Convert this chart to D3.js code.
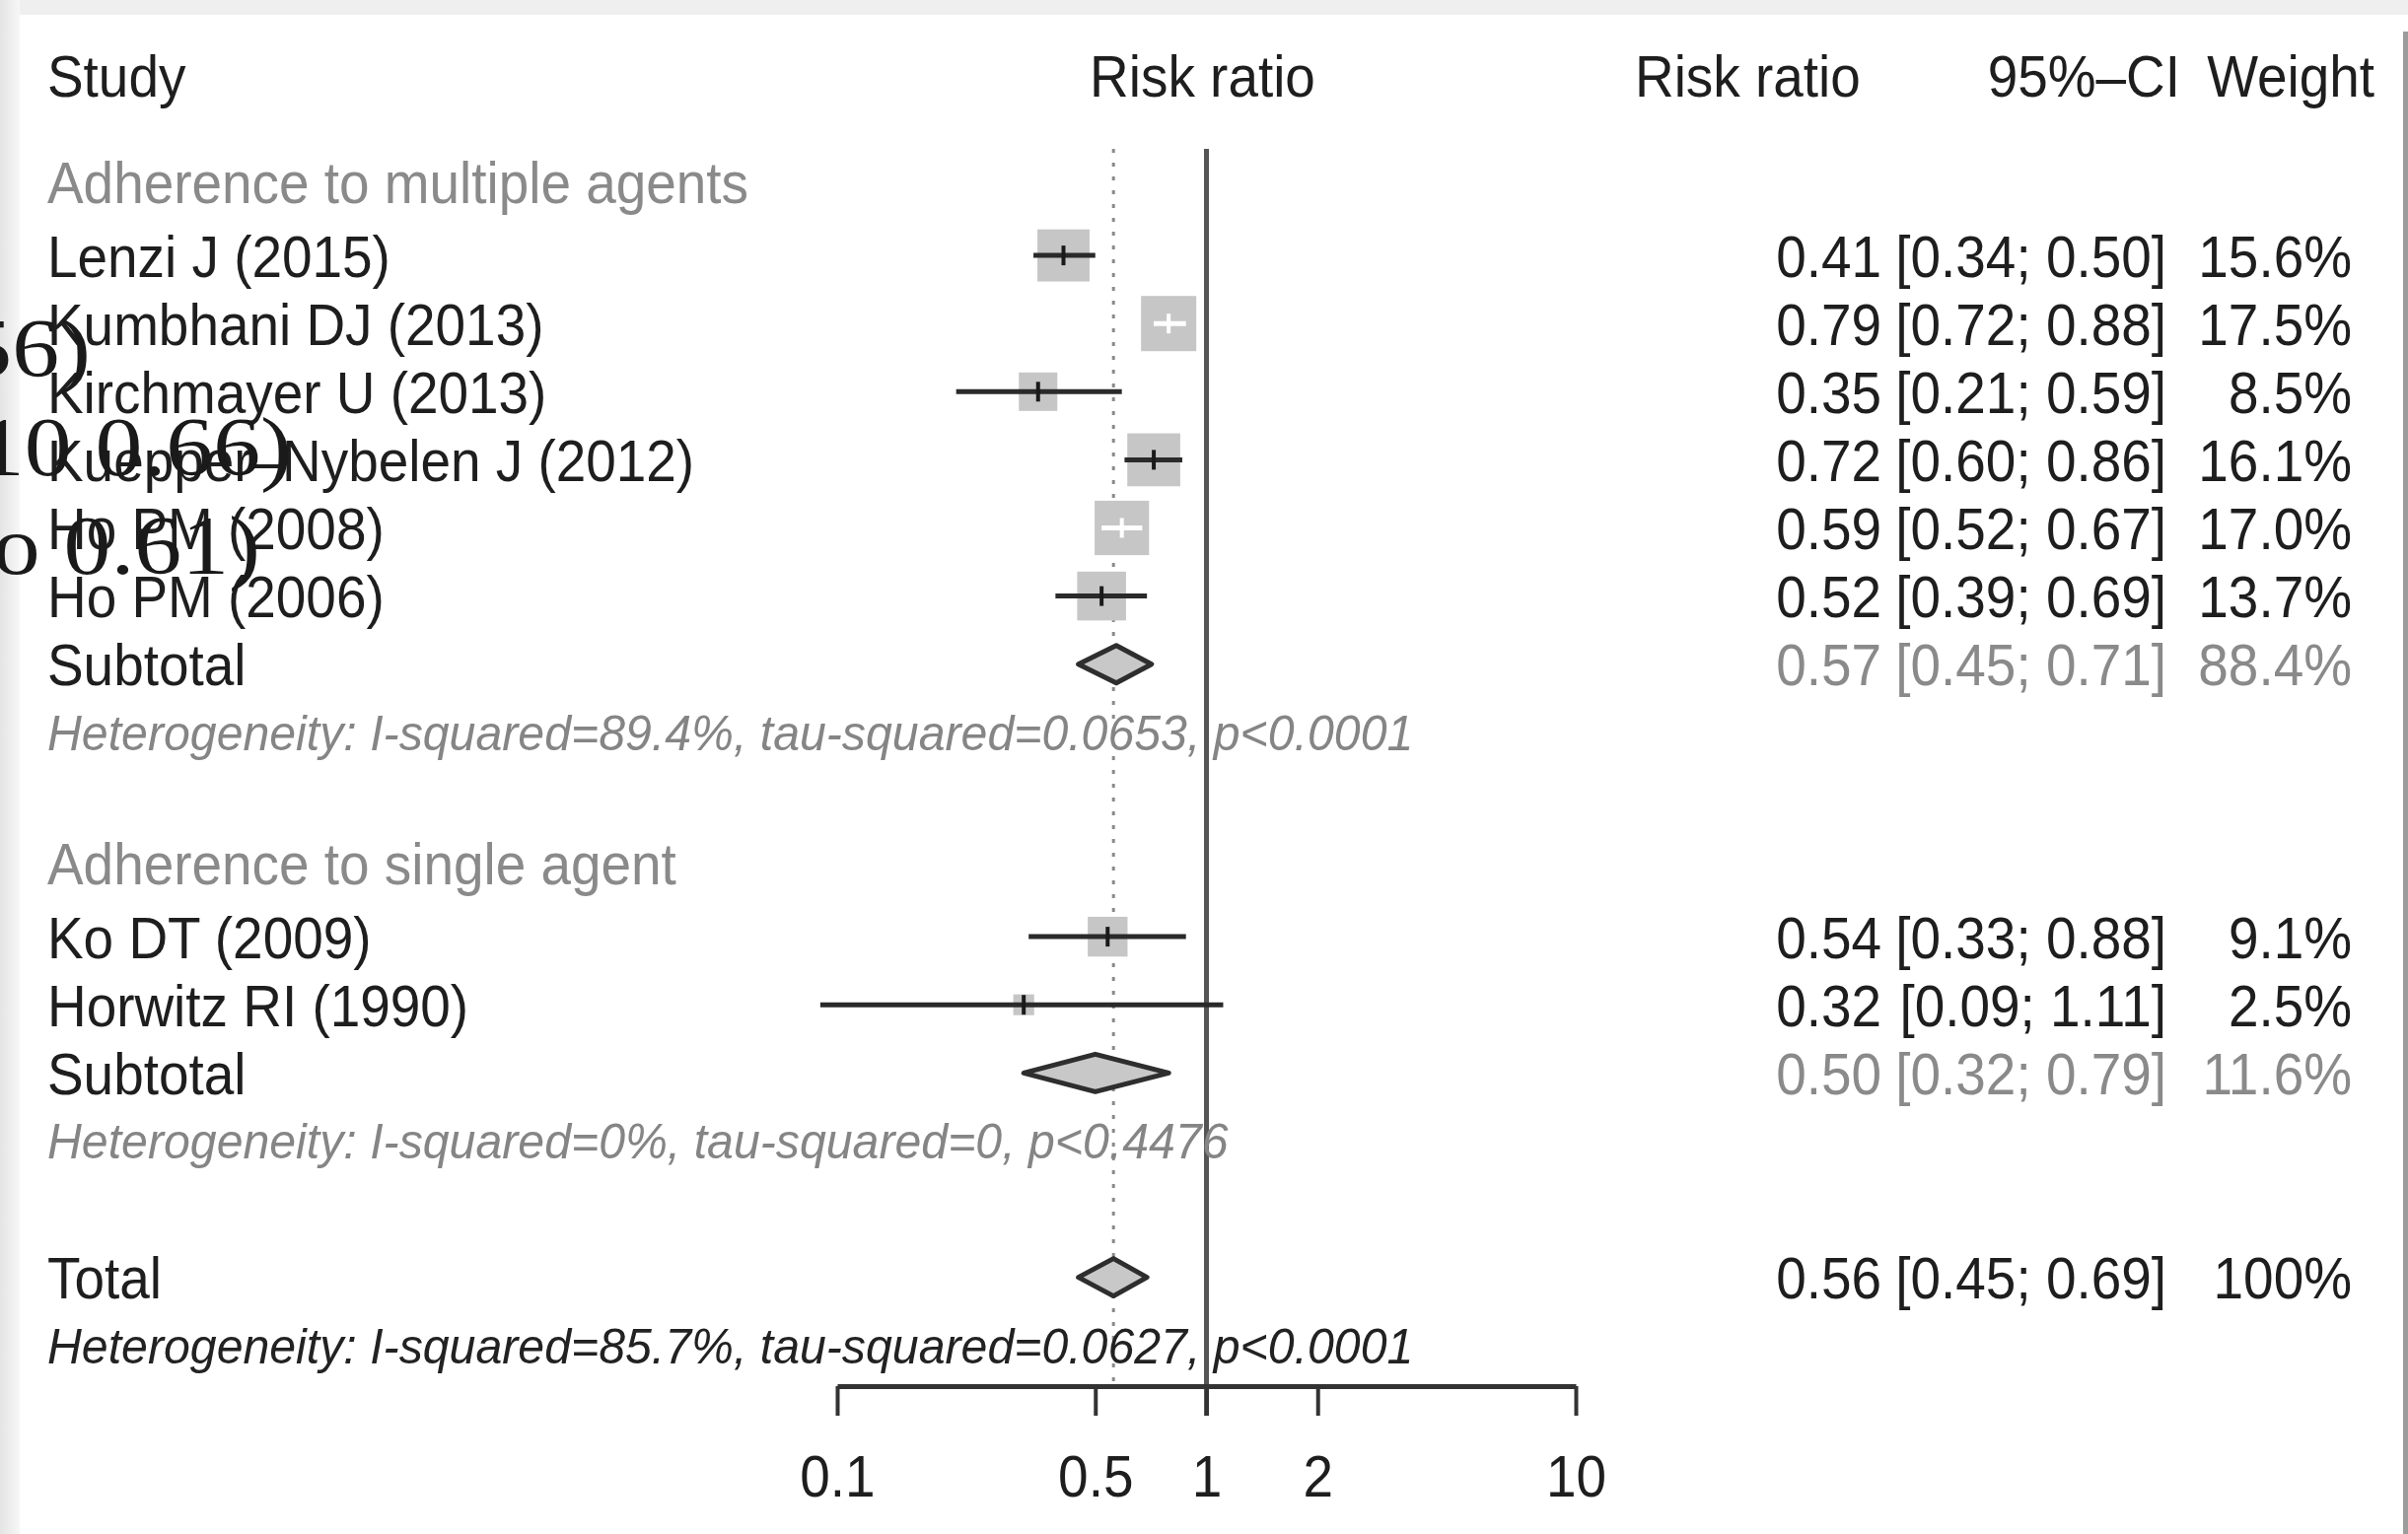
<!DOCTYPE html>
<html>
<head>
<meta charset="utf-8">
<script src="https://d3js.org/d3.v7.min.js"></script>
<style>
  html, body { margin: 0; padding: 0; background: #fff; }
  svg { display: block; }
</style>
</head>
<body>
<div id="chart"></div>
<script>
// Forest plot - adherence and risk ratio (meta style)

const groupNames = ["Adherence to multiple agents", "Adherence to single agent"];

const studies1 = ["Lenzi J (2015)", "Kumbhani DJ (2013)", "Kirchmayer U (2013)",
                  "Kuepper\u2013Nybelen J (2012)", "Ho PM (2008)", "Ho PM (2006)"];
const rr1 = [0.41, 0.79, 0.35, 0.72, 0.59, 0.52];
const lower1 = [0.34, 0.72, 0.21, 0.60, 0.52, 0.39];
const upper1 = [0.50, 0.88, 0.59, 0.86, 0.67, 0.69];
const weight1 = [15.6, 17.5, 8.5, 16.1, 17.0, 13.7];

const studies2 = ["Ko DT (2009)", "Horwitz RI (1990)"];
const rr2 = [0.54, 0.32];
const lower2 = [0.33, 0.09];
const upper2 = [0.88, 1.11];
const weight2 = [9.1, 2.5];

const subtotalRR = [0.57, 0.50];
const subtotalLower = [0.45, 0.32];
const subtotalUpper = [0.71, 0.79];
const subtotalWeight = [88.4, 11.6];
const hetTexts = ["Heterogeneity: I-squared=89.4%, tau-squared=0.0653, p<0.0001",
                  "Heterogeneity: I-squared=0%, tau-squared=0, p<0.4476"];

const totalRR = 0.56, totalLower = 0.45, totalUpper = 0.69, totalWeight = 100;
const totalHet = "Heterogeneity: I-squared=85.7%, tau-squared=0.0627, p<0.0001";

const tickValues = [0.1, 0.5, 1, 2, 10];

// stray serif fragments at the left edge of the picture
const overlayTexts = ["to 0.56)", "10 0.66)", "to 0.61)"];

const W = 2442, H = 1556;
const SANS = '"Liberation Sans", Arial, Helvetica, sans-serif';
const SQUISH = 0.915;

const groups = [
    { name: groupNames[0], start: 0, studies: studies1, rr: rr1, lo: lower1, hi: upper1, w: weight1 },
    { name: groupNames[1], start: 10, studies: studies2, rr: rr2, lo: lower2, hi: upper2, w: weight2 }
];
const totalRow = 16;

const x = d3.scaleLog().domain([0.1, 10]).range([849, 1598]);
const y = d3.scaleLinear().domain([0, 1]).range([190, 259.1]);
const boxSize = d3.scaleSqrt().domain([0, 17.5]).range([0, 56]);

const axisY = 1406;
const lineTop = 151;

const fmt2 = d3.format('.2f');
const fmtW = w => (w === 100 ? '100' : w.toFixed(1)) + '%';

const svg = d3.select('#chart')
    .append('svg')
    .attr('width', W)
    .attr('height', H)
    .style('background', '#fff');

// scanned page frame
const defs = svg.append('defs');
const grad = defs.append('linearGradient').attr('id', 'leftEdge');
grad.append('stop').attr('offset', '0%').attr('stop-color', '#e4e4e4');
grad.append('stop').attr('offset', '100%').attr('stop-color', '#f7f7f7');
svg.append('rect').attr('x', 0).attr('y', 0).attr('width', W).attr('height', 15).attr('fill', '#efefef');
svg.append('rect').attr('x', 0).attr('y', 0).attr('width', 20).attr('height', H).attr('fill', 'url(#leftEdge)');
svg.append('rect').attr('x', 2437).attr('y', 32).attr('width', 5).attr('height', H - 32).attr('fill', '#9c9c9c');

// text helper: condensed sans text
function label(g, px, py, str, opt = {}) {
    const size = opt.size || 60;
    const sx = opt.sx || SQUISH;
    return g.append('text')
        .attr('transform', `translate(${px},${py}) scale(${sx},1)`)
        .attr('text-anchor', opt.anchor || 'start')
        .attr('font-family', opt.family || SANS)
        .attr('font-size', size)
        .attr('font-style', opt.italic ? 'italic' : 'normal')
        .attr('fill', opt.color || '#1e1e1e')
        .text(str);
}

const base = i => y(i) + 21.5;   // baseline for a 60px row label

const plot = svg.append('g');
const texts = svg.append('g');

// headers
label(texts, 48, 98, 'Study');
label(texts, x(1) - 4, 98, 'Risk ratio', { anchor: 'middle' });
label(texts, 1658, 98, 'Risk ratio');
label(texts, 2211, 98, '95%\u2013CI', { anchor: 'end' });
label(texts, 2408, 98, 'Weight', { anchor: 'end' });

// reference lines
plot.append('line')
    .attr('x1', x(totalRR)).attr('x2', x(totalRR))
    .attr('y1', lineTop).attr('y2', axisY)
    .attr('stroke', '#8a8a8a').attr('stroke-width', 3)
    .attr('stroke-dasharray', '4 10');

plot.append('line')
    .attr('x1', x(1)).attr('x2', x(1))
    .attr('y1', lineTop).attr('y2', axisY + 30)
    .attr('stroke', '#555').attr('stroke-width', 5);

function rightColumns(row, rr, lo, hi, w, color) {
    label(texts, 1908, base(row), fmt2(rr), { anchor: 'end', color });
    label(texts, 2197, base(row), `[${fmt2(lo)}; ${fmt2(hi)}]`, { anchor: 'end', color });
    label(texts, 2385, base(row), fmtW(w), { anchor: 'end', color });
}

function diamond(row, rr, lo, hi) {
    const yc = y(row), h = 19;
    plot.append('polygon')
        .attr('points', [[x(lo), yc], [x(rr), yc - h], [x(hi), yc], [x(rr), yc + h]].join(' '))
        .attr('fill', '#c8c8c8')
        .attr('stroke', '#2e2e2e')
        .attr('stroke-width', 5)
        .attr('stroke-linejoin', 'round');
}

groups.forEach((grp, gi) => {
    label(texts, 48, base(grp.start) - 6, grp.name, { color: '#8a8a8a' });

    const rows = grp.studies.map((s, i) => ({
        name: s, rr: grp.rr[i], lo: grp.lo[i], hi: grp.hi[i], w: grp.w[i], row: grp.start + 1 + i
    }));

    rows.forEach(d => {
        label(texts, 48, base(d.row), d.name);
        rightColumns(d.row, d.rr, d.lo, d.hi, d.w, '#1e1e1e');
    });

    // boxes
    plot.append('g').selectAll('rect')
        .data(rows)
        .join('rect')
        .attr('x', d => x(d.rr) - boxSize(d.w) / 2)
        .attr('y', d => y(d.row) - boxSize(d.w) / 2)
        .attr('width', d => boxSize(d.w))
        .attr('height', d => boxSize(d.w))
        .attr('fill', '#c6c6c6');

    // confidence intervals, white when they fit inside the box
    const inside = d => x(d.lo) >= x(d.rr) - boxSize(d.w) / 2 && x(d.hi) <= x(d.rr) + boxSize(d.w) / 2;

    plot.append('g').selectAll('line')
        .data(rows)
        .join('line')
        .attr('x1', d => x(d.lo)).attr('x2', d => x(d.hi))
        .attr('y1', d => y(d.row)).attr('y2', d => y(d.row))
        .attr('stroke', d => inside(d) ? '#fff' : '#2a2a2a')
        .attr('stroke-width', 5);

    plot.append('g').selectAll('line')
        .data(rows)
        .join('line')
        .attr('x1', d => x(d.rr)).attr('x2', d => x(d.rr))
        .attr('y1', d => y(d.row) - 10).attr('y2', d => y(d.row) + 10)
        .attr('stroke', d => inside(d) ? '#fff' : '#1a1a1a')
        .attr('stroke-width', 4);

    const subRow = grp.start + 1 + rows.length;
    label(texts, 48, base(subRow), 'Subtotal');
    rightColumns(subRow, subtotalRR[gi], subtotalLower[gi], subtotalUpper[gi], subtotalWeight[gi], '#8a8a8a');
    diamond(subRow, subtotalRR[gi], subtotalLower[gi], subtotalUpper[gi]);

    label(texts, 48, y(subRow + 1) + 18, hetTexts[gi], { size: 50, sx: 0.965, italic: true, color: '#858585' });
});

// overall
label(texts, 48, base(totalRow), 'Total');
rightColumns(totalRow, totalRR, totalLower, totalUpper, totalWeight, '#1e1e1e');
diamond(totalRow, totalRR, totalLower, totalUpper);
label(texts, 48, y(totalRow + 1) + 18, totalHet, { size: 50, sx: 0.965, italic: true, color: '#222' });

// x axis
const axis = d3.axisBottom(x)
    .tickValues(tickValues)
    .tickFormat(d => String(d))
    .tickSize(30)
    .tickSizeOuter(0);

const ax = svg.append('g')
    .attr('transform', `translate(0,${axisY})`)
    .call(axis);

ax.select('.domain').attr('stroke', '#333').attr('stroke-width', 5);
ax.selectAll('.tick line').attr('stroke', '#333').attr('stroke-width', 4);
ax.selectAll('.tick text')
    .attr('y', 112)
    .attr('dy', null)
    .attr('font-family', SANS)
    .attr('font-size', 60)
    .attr('fill', '#1e1e1e')
    .attr('transform', `scale(${SQUISH},1)`);

// serif fragments overlapping the left side
const overlayPos = [[92, 382], [296, 482], [264, 582]];
overlayTexts.forEach((t, i) => {
    label(svg, overlayPos[i][0], overlayPos[i][1], t, {
        anchor: 'end', size: 84, sx: 1.14, family: '"Liberation Serif", "DejaVu Serif", serif', color: '#1a1a1a'
    });
});
</script>
</body>
</html>
